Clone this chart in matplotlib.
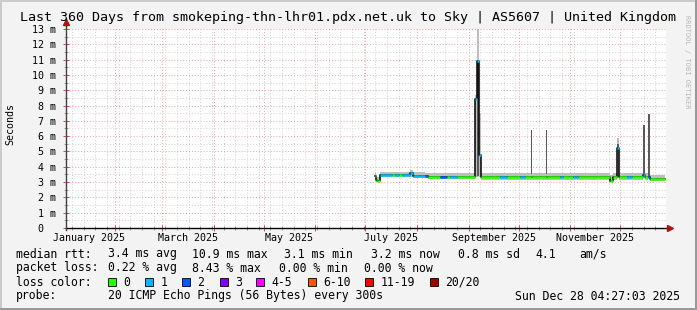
import pandas as pd
import matplotlib
matplotlib.use('Agg')
import matplotlib.pyplot as plt
import matplotlib.dates as mdates
from matplotlib.patches import Rectangle

W, H = 697, 310
MONO = 'DejaVu Sans Mono'

# time window of the graph
t_start = pd.Timestamp('2025-01-02 04:27:03')
t_end = pd.Timestamp('2025-12-28 04:27:03')

# rrd steps: start time of each step (last entry closes the final step)
step_time = ['2025-07-06 16:00', '2025-07-07 06:00', '2025-07-08 06:00', '2025-07-09 16:00',
             '2025-07-16 20:00', '2025-07-18 16:00', '2025-07-21 02:00', '2025-07-22 20:00',
             '2025-07-27 16:00', '2025-07-29 12:00', '2025-08-05 16:00', '2025-08-07 12:00',
             '2025-08-14 16:00', '2025-08-18 20:00', '2025-08-20 16:00', '2025-08-24 20:00',
             '2025-09-04 16:00', '2025-09-05 20:00', '2025-09-07 02:00', '2025-09-08 08:00',
             '2025-09-19 16:00', '2025-09-23 20:00', '2025-10-01 16:00', '2025-10-04 16:00',
             '2025-10-08 06:00', '2025-10-08 20:00', '2025-10-17 06:00', '2025-10-17 20:00',
             '2025-10-25 16:00', '2025-10-27 12:00', '2025-11-02 12:00', '2025-11-05 12:00',
             '2025-11-24 16:00', '2025-11-26 12:00', '2025-11-29 02:00', '2025-11-30 08:00',
             '2025-12-04 20:00', '2025-12-07 20:00', '2025-12-14 12:00', '2025-12-15 16:00',
             '2025-12-17 12:00', '2025-12-18 16:00', '2025-12-28 04:27']
# median rtt in ms per step
median_ms = [3.40, 3.15, 3.05, 3.45, 3.45, 3.45, 3.45, 3.45, 3.60, 3.40, 3.40, 3.33,
             3.33, 3.33, 3.35, 3.33, 8.40, 10.90, 4.80, 3.30, 3.32, 3.30, 3.32, 3.30,
             3.30, 3.30, 3.30, 3.30, 3.32, 3.30, 3.32, 3.30, 3.10, 3.30, 5.20, 3.30,
             3.32, 3.30, 3.48, 3.30, 3.35, 3.22]
# lost pings (of 20) per step
loss_cnt = [0, 0, 0, 1, 0, 1, 0, 1, 1, 1, 2, 0,
            2, 0, 1, 0, 1, 1, 1, 0, 1, 0, 1, 0,
            0, 0, 0, 0, 1, 0, 1, 0, 0, 0, 1, 0,
            1, 0, 1, 0, 2, 0]
# smoke (min..max ping) per step
smoke_lo = [3.30, 3.05, 3.00, 3.30, 3.30, 3.30, 3.30, 3.30, 3.35, 3.28, 3.25, 3.20,
            3.20, 3.20, 3.20, 3.20, 3.30, 3.30, 3.30, 3.15, 3.15, 3.15, 3.15, 3.15,
            3.15, 3.15, 3.15, 3.15, 3.15, 3.15, 3.15, 3.15, 3.00, 3.15, 3.30, 3.15,
            3.15, 3.15, 3.30, 3.15, 3.30, 3.10]
smoke_hi = [3.60, 3.40, 3.35, 3.66, 3.66, 3.66, 3.66, 3.66, 3.78, 3.64, 3.62, 3.60,
            3.60, 3.60, 3.60, 3.60, 8.70, 13.30, 7.50, 3.60, 3.60, 3.60, 3.60, 3.60,
            6.40, 3.60, 6.40, 3.60, 3.60, 3.60, 3.60, 3.60, 3.45, 3.60, 5.90, 3.60,
            3.60, 3.60, 6.70, 3.60, 7.45, 3.45]
# dense part of the smoke (most pings) per step
dense_lo = [3.40, 3.15, 3.05, 3.45, 3.45, 3.45, 3.45, 3.45, 3.60, 3.40, 3.40, 3.33,
            3.33, 3.33, 3.35, 3.33, 8.40, 3.40, 4.80, 3.30, 3.32, 3.30, 3.32, 3.30,
            3.50, 3.30, 3.50, 3.30, 3.32, 3.30, 3.32, 3.30, 3.10, 3.30, 5.20, 3.30,
            3.32, 3.30, 3.48, 3.30, 3.35, 3.22]
dense_hi = [3.40, 3.15, 3.05, 3.45, 3.45, 3.45, 3.45, 3.45, 3.60, 3.40, 3.40, 3.33,
            3.33, 3.33, 3.35, 3.33, 8.40, 10.90, 4.80, 3.30, 3.32, 3.30, 3.32, 3.30,
            6.40, 3.30, 6.40, 3.30, 3.32, 3.30, 3.32, 3.30, 3.10, 3.30, 5.50, 3.30,
            3.32, 3.30, 6.70, 3.30, 7.45, 3.22]

loss_levels = [0, 1, 2, 3, 4, 6, 11, 20]
loss_labels = ['0', '1', '2', '3', '4-5', '6-10', '11-19', '20/20']
loss_colors = ['#26ff00', '#00b8ff', '#0059ff', '#7e00ff', '#ff00ff', '#ff5500', '#ff0000', '#a10000']

y_ticks = list(range(0, 14))
month_starts = pd.date_range('2025-02-01', '2025-12-01', freq='MS')
label_months = pd.date_range('2025-01-01', '2025-11-01', freq='2MS')

title = 'Last 360 Days from smokeping-thn-lhr01.pdx.net.uk to Sky | AS5607 | United Kingdom'
rtt_stats = ['3.4 ms avg', '10.9 ms max', '3.1 ms min', '3.2 ms now', '0.8 ms sd', '4.1', 'am/s']
loss_stats = ['0.22 % avg', '8.43 % max', '0.00 % min', '0.00 % now']
probe_text = '20 ICMP Echo Pings (56 Bytes) every 300s'
stamp = 'Sun Dec 28 04:27:03 2025'


def level_color(n):
    idx = 0
    for i, lv in enumerate(loss_levels):
        if n >= lv:
            idx = i
    return loss_colors[idx]


fig = plt.figure(figsize=(W / 100, H / 100), dpi=100, facecolor='#f3f3f3')
x0, x1, yb, yt = 65.5, 665.5, 228.0, 28.5
ax = fig.add_axes([x0 / W, 1 - yb / H, (x1 - x0) / W, (yb - yt) / H])
ax.set_facecolor('white')

t = pd.to_datetime(step_time)
ext = lambda v: list(v) + [v[-1]]

# smoke
ax.fill_between(t, ext(smoke_lo), ext(smoke_hi), step='post', color='#bebebe', lw=0, zorder=2)
ax.fill_between(t, ext(dense_lo), ext(dense_hi), step='post', color='#5a5a5a', lw=0, zorder=3)

# median: black step line with loss coloured segments on top
ax.step(t, ext(median_ms), where='post', color='black', lw=1.1, zorder=4)
for i in range(len(median_ms)):
    ax.hlines(median_ms[i], t[i], t[i + 1], color=level_color(loss_cnt[i]), lw=1.8, zorder=5)

ax.set_xlim(t_start, t_end)
ax.set_ylim(0, 13.03)

# grid
ax.set_xticks(month_starts)
ax.xaxis.set_minor_locator(mdates.WeekdayLocator(byweekday=mdates.MO))
ax.set_yticks(y_ticks)
ax.set_yticks([v + 0.5 for v in y_ticks[:-1]], minor=True)
ax.grid(which='minor', color='#d4d4d4', lw=0.7, linestyle=(0, (1, 2)), zorder=1)
ax.grid(which='major', color='#eda3a3', lw=0.7, linestyle=(0, (1, 2)), zorder=1)
ax.set_axisbelow(True)

ax.set_xticklabels([])
ax.set_yticklabels([f'{v} m' if v else '0  ' for v in y_ticks], family=MONO, fontsize=7.2)
ax.tick_params(axis='both', which='major', direction='inout', length=4, width=0.7, color='#d05050', pad=4)
ax.tick_params(axis='both', which='minor', direction='inout', length=3, width=0.7, color='#999999')
ax.tick_params(axis='y', which='major', pad=5)
for s in ax.spines.values():
    s.set_visible(False)

# axes with arrows
ax.plot([0, 1.006], [0, 0], transform=ax.transAxes, color='black', lw=1, clip_on=False, zorder=6)
ax.plot([0, 0], [-0.012, 1.03], transform=ax.transAxes, color='#404040', lw=1, clip_on=False, zorder=6)
ax.plot([1.008], [0], marker='>', ms=4, color='#a81515', transform=ax.transAxes, clip_on=False, zorder=7)
ax.plot([0], [1.035], marker='^', ms=4, color='#a81515', transform=ax.transAxes, clip_on=False, zorder=7)

# month labels centred in their month
for m in label_months:
    mid = m + (m + pd.offsets.MonthBegin(1) - m) / 2
    ax.text(mid, -0.05, m.strftime('%B %Y'), transform=ax.get_xaxis_transform(),
            ha='center', va='center', family=MONO, fontsize=7.2)


def ftext(x, y, s, **kw):
    kw.setdefault('fontsize', 8.3)
    fig.text(x / W, 1 - y / H, s, family=MONO, va='center', **kw)


ftext(348.5, 17, title, fontsize=9.6, ha='center')
ftext(10, 124, 'Seconds', fontsize=7.2, rotation=90, ha='center')
ftext(687, 62, 'RRDTOOL / TOBI OETIKER', fontsize=5, rotation=270, ha='center', color='#b8b8b8')

ftext(16, 254, 'median rtt:')
for x, s in zip([107.5, 192, 284, 371, 458, 535.5, 579], rtt_stats):
    ftext(x, 254, s)
ftext(16, 268, 'packet loss:')
for x, s in zip([107.5, 192, 279, 364], loss_stats):
    ftext(x, 268, s)
ftext(16, 282, 'loss color:')
box_x = [108, 145, 182, 219.5, 256, 307.5, 365, 430]
for x, c, s in zip(box_x, loss_colors, loss_labels):
    fig.add_artist(Rectangle((x / W, 1 - 286 / H), 8 / W, 8 / H, transform=fig.transFigure,
                             facecolor=c, edgecolor='black', lw=0.6))
    ftext(x + 15.5, 282, s)
ftext(16, 296, 'probe:')
ftext(107.5, 296, probe_text)
ftext(680, 296, stamp, ha='right')

# 3d frame of the image
fig.add_artist(Rectangle((0, 0), 2 / W, 1, transform=fig.transFigure, color='#cbcbcb', lw=0))
fig.add_artist(Rectangle((0, 1 - 2 / H), 1, 2 / H, transform=fig.transFigure, color='#cbcbcb', lw=0))
fig.add_artist(Rectangle((1 - 2 / W, 0), 2 / W, 1, transform=fig.transFigure, color='#999999', lw=0))
fig.add_artist(Rectangle((0, 0), 1, 2 / H, transform=fig.transFigure, color='#999999', lw=0))

fig.savefig('out.png', dpi=100, facecolor=fig.get_facecolor())
